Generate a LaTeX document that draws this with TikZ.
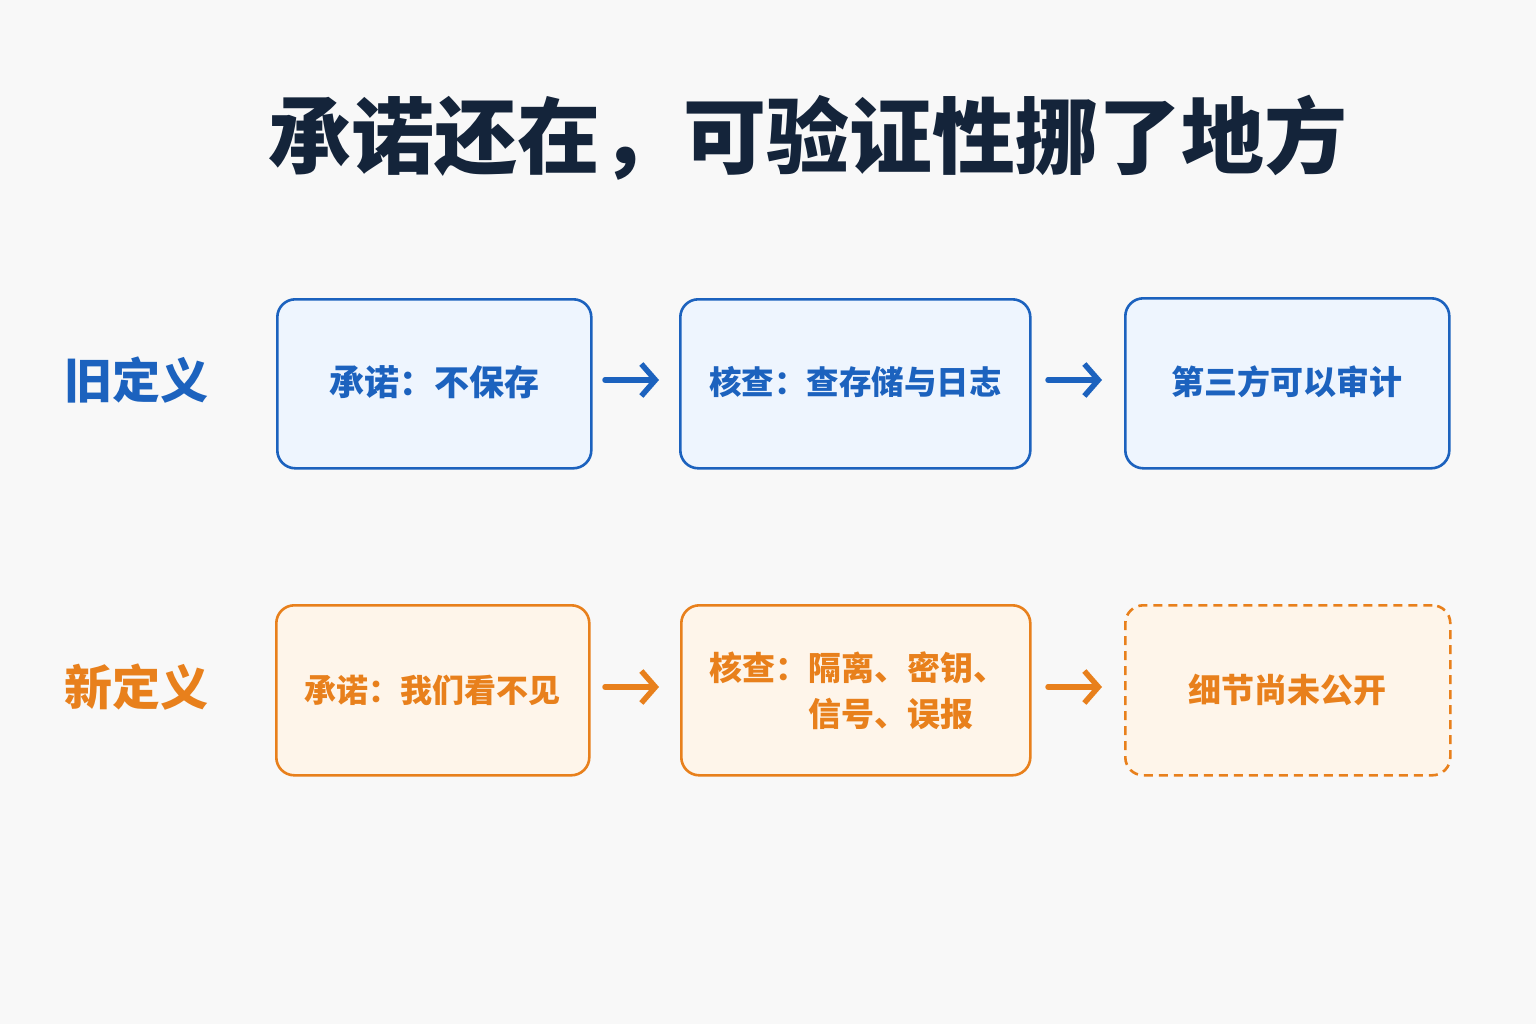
\documentclass[tikz,border=0pt]{standalone}
\usepackage{fontspec}
\setmainfont{Noto Sans CJK SC}
\usetikzlibrary{arrows.meta}
\definecolor{bg}{HTML}{F8F8F8}
\definecolor{titlec}{HTML}{14243A}
\definecolor{bluel}{HTML}{1C62BE}
\definecolor{bluef}{HTML}{EEF5FE}
\definecolor{orl}{HTML}{E8801C}
\definecolor{orf}{HTML}{FEF5EA}
\tikzset{
  oldbox/.style={draw=bluel, fill=bluef, line width=2.6pt, rounded corners=18pt, anchor=north west},
  newbox/.style={draw=orl, fill=orf, line width=2.6pt, rounded corners=18pt, anchor=north west},
  boxtext/.style={font=\fontsize{33}{46}\selectfont\bfseries},
  rowlabel/.style={font=\fontsize{48}{56}\selectfont\bfseries},
  flowarrow/.style={line width=5.5pt, -{Straight Barb[length=14pt,width=32pt,line width=5.5pt]}, line cap=round},
}
\begin{document}
\begin{tikzpicture}[x=1pt,y=-1pt]
\fill[bg] (0,0) rectangle (1536,1024);
\useasboundingbox (0,0) rectangle (1536,1024);

\node[font=\fontsize{83}{92}\selectfont\bfseries, text=titlec] (title) at (808,138) {承诺还在，可验证性挪了地方};

\node[rowlabel, text=bluel] (oldlab) at (136,380) {旧定义};
\node[rowlabel, text=orl] (newlab) at (136,687) {新定义};

% old row
\node[oldbox, minimum width=314pt, minimum height=169pt] (o1) at (276,298) {};
\node[boxtext, text=bluel, font=\fontsize{35}{44}\selectfont\bfseries] (o1t) at ([yshift=2pt]o1.center) {承诺：不保存};
\node[oldbox, minimum width=350pt, minimum height=169pt] (o2) at (679,298) {};
\node[boxtext, text=bluel, font=\fontsize{32.5}{44}\selectfont\bfseries] (o2t) at ([yshift=2pt]o2.center) {核查：查存储与日志};
\node[oldbox, minimum width=324pt, minimum height=170pt] (o3) at (1124,297) {};
\node[boxtext, text=bluel] (o3t) at ([yshift=2pt]o3.center) {第三方可以审计};

% new row
\node[newbox, minimum width=313pt, minimum height=170pt] (n1) at (275,604) {};
\node[boxtext, text=orl, font=\fontsize{32}{44}\selectfont\bfseries] (n1t) at (n1.center) {承诺：我们看不见};
\node[newbox, minimum width=349pt, minimum height=170pt] (n2) at (680,604) {};
\node[boxtext, text=orl] (n2t) at ([xshift=2pt,yshift=-4pt]n2.center) {\begin{tabular}{@{}l@{}l@{}}核查：&隔离、密钥、\\ &信号、误报\end{tabular}};
\node[newbox, dashed, dash pattern=on 9pt off 6pt, minimum width=325pt, minimum height=170pt] (n3) at (1124,604) {};
\node[boxtext, text=orl] (n3t) at (n3.center) {细节尚未公开};

% arrows
\coordinate (a1s) at (605,380); \coordinate (a1e) at (659,380);
\coordinate (a2s) at (1048,380); \coordinate (a2e) at (1102,380);
\coordinate (b1s) at (605,687); \coordinate (b1e) at (659,687);
\coordinate (b2s) at (1048,687); \coordinate (b2e) at (1102,687);
\draw[flowarrow, bluel] (a1s) -- (a1e);
\draw[flowarrow, bluel] (a2s) -- (a2e);
\draw[flowarrow, orl] (b1s) -- (b1e);
\draw[flowarrow, orl] (b2s) -- (b2e);
\end{tikzpicture}
\end{document}
